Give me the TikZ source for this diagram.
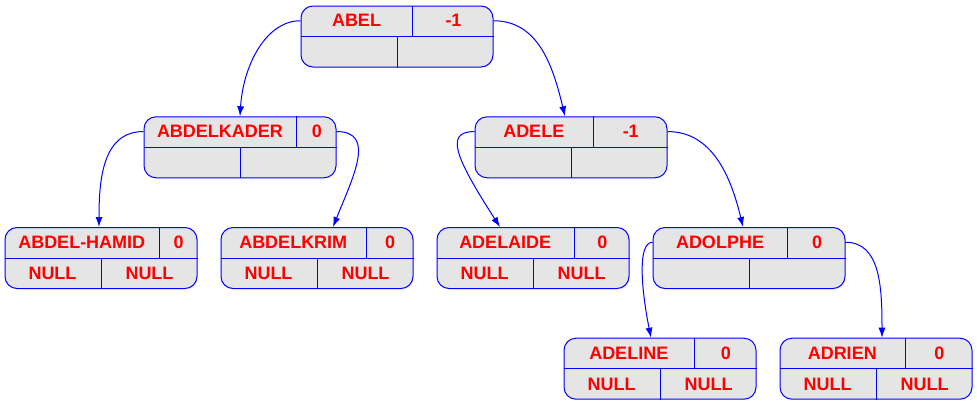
\documentclass[tikz,border=0pt]{standalone}
\usepackage{fontspec}
\setmainfont{Liberation Sans}
\usetikzlibrary{calc,arrows.meta}
\definecolor{recfill}{HTML}{E5E5E5}
\tikzset{
  rec/.style={draw=blue,fill=recfill,rounded corners=12pt,minimum width=192pt,minimum height=61pt,inner sep=0pt,line width=1pt},
  recline/.style={draw=blue,line width=1pt},
  lbl/.style={text=red,font=\fontsize{18}{18}\selectfont\bfseries,inner sep=0pt},
  edge/.style={draw=blue,line width=1pt,-{Latex[length=10pt,width=7pt]}}
}
\newcommand{\recnode}[7]{%
  \node[rec] (#1) at (#2,#3) {};
  \draw[recline] (#1.west) -- (#1.east);
  \draw[recline] ([xshift=#6pt]#1.north west) -- ([xshift=#6pt]#1.west);
  \draw[recline] (#1.south) -- (#1.center);
  \node[lbl] (#1-key) at ($(#1.north west)+({0.5*#6},15.25)$) {#4};
  \node[lbl] (#1-bal) at ($(#1.north east)+({-0.5*(192-#6)},15.25)$) {#5};
  \node[lbl] (#1-l) at ($(#1.south west)+(48,-15.25)$) {#7};
  \node[lbl] (#1-r) at ($(#1.south east)+(-48,-15.25)$) {#7};
  \coordinate (#1-w) at ($(#1.north west)+(0,15.25)$);
  \coordinate (#1-e) at ($(#1.north east)+(0,15.25)$);
}
\begin{document}
\begin{tikzpicture}[x=1pt,y=-1pt]
          \useasboundingbox (0,0) rectangle (977,405);

          \recnode{abel}{397}{36.5}{ABEL}{-1}{112}{}
          \recnode{abdelkader}{240}{147.3}{ABDELKADER}{0}{153}{}
          \recnode{adele}{571}{147.3}{ADELE}{-1}{118.5}{}
          \recnode{abdelhamid}{101}{258}{ABDEL-HAMID}{0}{154.5}{NULL}
          \recnode{abdelkrim}{317}{258}{ABDELKRIM}{0}{145.5}{NULL}
          \recnode{adelaide}{533}{258}{ADELAIDE}{0}{137.5}{NULL}
          \recnode{adolphe}{749}{258}{ADOLPHE}{0}{135}{}
          \recnode{adeline}{660}{368.7}{ADELINE}{0}{130.5}{NULL}
          \recnode{adrien}{876}{368.7}{ADRIEN}{0}{125.5}{NULL}

          \draw[edge] (abel-w) .. controls +(-35,0) and +(3,-50) .. (abdelkader.north);
          \draw[edge] (abel-e) .. controls +(45,0) and +(-12,-50) .. ([xshift=-6pt]adele.north);

          \draw[edge] (abdelkader-w) .. controls +(-40,0) and +(0,-50) .. ([xshift=-2pt]abdelhamid.north);
          \draw[edge] (abdelkader-e) .. controls +(40,0) and +(20,-50) .. ([xshift=16pt]abdelkrim.north);

          \draw[edge] (adele-w) .. controls +(-30,0) and +(-45,-70) .. ([xshift=-33pt]adelaide.north);
          \draw[edge] (adele-e) .. controls +(45,0) and +(-12,-50) .. ([xshift=-6pt]adolphe.north);

          \draw[edge] (adolphe-w) .. controls +(-15,0) and +(-10,-50) .. ([xshift=-9pt]adeline.north);
          \draw[edge] (adolphe-e) .. controls +(35,0) and +(0,-50) .. ([xshift=6pt]adrien.north);
\end{tikzpicture}
\end{document}
